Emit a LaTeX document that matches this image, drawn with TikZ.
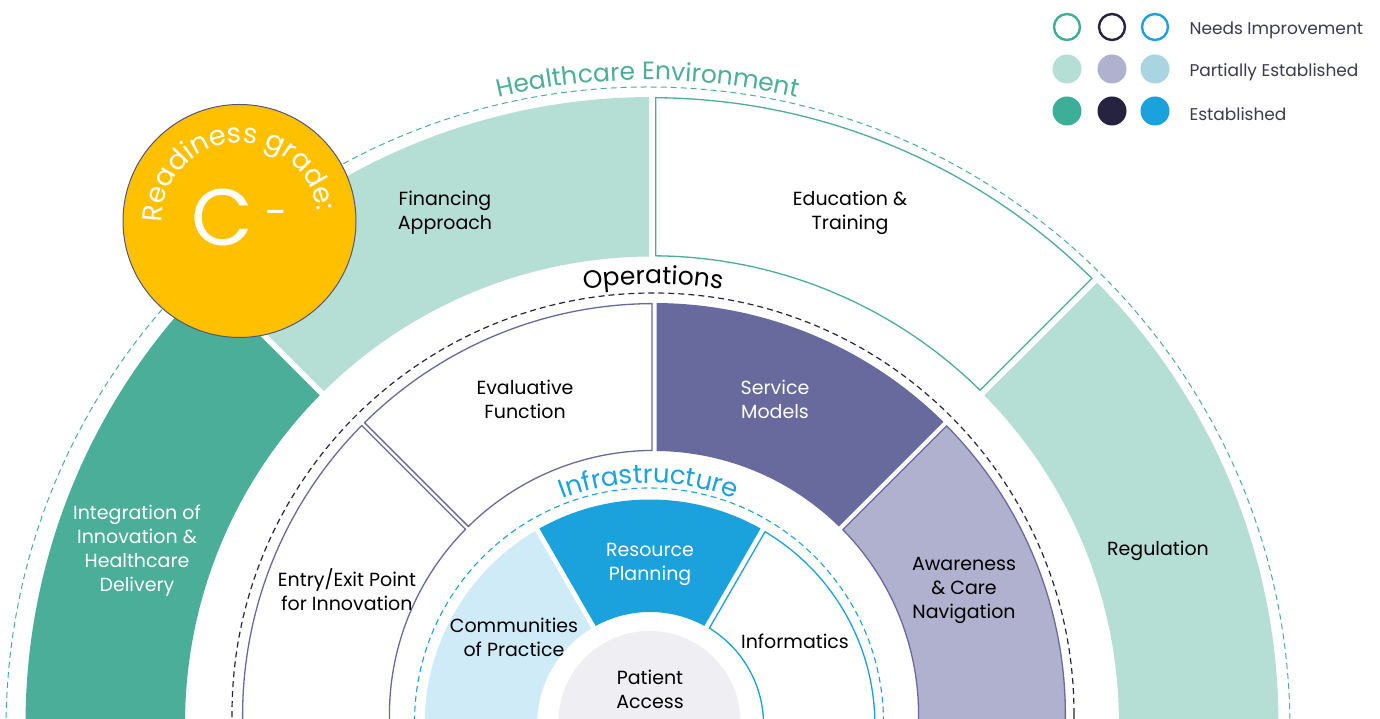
\documentclass[tikz,border=0pt]{standalone}
\usepackage{fontspec}
\setmainfont{Poppins}
\usetikzlibrary{decorations.text}
\definecolor{teal1}{HTML}{4BAE98}
\definecolor{teallt}{HTML}{B5DED5}
\definecolor{tealleg}{HTML}{3DAE98}
\definecolor{purp}{HTML}{6A68A0}
\definecolor{purpfill}{HTML}{68699D}
\definecolor{purplt}{HTML}{B0B1CE}
\definecolor{navy}{HTML}{252340}
\definecolor{blue1}{HTML}{1BA1DB}
\definecolor{bluelt}{HTML}{CFEBF8}
\definecolor{bluepart}{HTML}{A9D4E2}
\definecolor{gold}{HTML}{FFC000}
\definecolor{pagrey}{HTML}{EEEEF3}
\definecolor{legtxt}{HTML}{3A3A50}
\definecolor{ringline}{HTML}{55557A}
% #1 centre, #2 style, #3 start angle, #4 end angle, #5 inner r, #6 outer r, #7 half gap
\newcommand\ringseg[7]{%
 \pgfmathsetmacro\sgA{#3+asin(#7/#6)}%
 \pgfmathsetmacro\sgB{#4-asin(#7/#6)}%
 \pgfmathsetmacro\sgC{#4-asin(#7/#5)}%
 \pgfmathsetmacro\sgD{#3+asin(#7/#5)}%
 \path[#2] ([shift={(#1)}]\sgA:#6pt)
   arc[start angle=\sgA, end angle=\sgB, radius=#6pt]
   -- ([shift={(#1)}]\sgC:#5pt)
   arc[start angle=\sgC, end angle=\sgD, radius=#5pt]
   -- cycle;}
\tikzset{
  lbl/.style={align=center, text=black, font=\fontsize{19}{24}\selectfont},
  wlbl/.style={lbl, text=white},
  legtext/.style={anchor=west, text=legtxt, font=\fontsize{17}{20}\selectfont},
  legring/.style={draw=#1, line width=2.4pt, fill=white},
  legdot/.style={fill=#1},
}
\begin{document}
\begin{tikzpicture}[x=1pt,y=1pt]
\useasboundingbox (0,0) rectangle (1380,719);
\clip (0,0) rectangle (1380,719);
\coordinate (CO) at (652,-4.5);  % outer ring
\coordinate (CH) at (648,-10);   % healthcare dashed
\coordinate (CM) at (654,4);     % operations ring
\coordinate (CD) at (653,5);     % operations dashed
\coordinate (CI) at (650,-6);    % infrastructure ring
\coordinate (CB) at (649,-3.5);  % infrastructure dashed
% dashed guide circles
\draw[teal1, dash pattern=on 6pt off 4pt, line width=1pt] (CH) circle[radius=642pt];
\draw[navy, dash pattern=on 6pt off 4pt, line width=1.2pt] (CD) circle[radius=421pt];
\draw[blue1, dash pattern=on 6pt off 4pt, line width=1.1pt] (CB) circle[radius=234.5pt];
% outer ring: healthcare environment
\ringseg{CO}{fill=teal1}{135}{185}{467}{626.5}{3}
\ringseg{CO}{fill=teallt}{90}{135}{467}{626.5}{3}
\ringseg{CO}{draw=teal1, line width=1.3pt, fill=white}{45}{90}{467.7}{625.8}{3.7}
\ringseg{CO}{fill=teallt}{-5}{45}{467}{626.5}{3}
% middle ring: operations
\ringseg{CM}{draw=purp, line width=1.3pt, fill=white}{135}{185}{264.6}{411.4}{2}
\ringseg{CM}{draw=purp, line width=1.3pt, fill=white}{90}{135}{264.6}{411.4}{2}
\ringseg{CM}{fill=purpfill}{45}{90}{264}{412}{2.5}
\ringseg{CM}{draw=purp, line width=1.3pt, fill=purplt}{-5}{45}{264.6}{411.4}{2.5}
% inner ring: infrastructure
\ringseg{CI}{fill=bluelt}{120}{185}{113}{225.5}{2.5}
\ringseg{CI}{fill=blue1}{60}{120}{113}{225.5}{2.5}
\ringseg{CI}{draw=blue1, line width=1.3pt, fill=white}{-5}{60}{113.6}{224.9}{3}
% patient access
\fill[pagrey] (649.5,-3) circle[radius=91pt];
% curved ring titles
\path[decorate, decoration={text along path, text align=center,
  text={|\fontsize{25}{25}\selectfont\color{teal1}|Healthcare Environment}}]
  ([shift={(CH)}]122:649pt) arc[start angle=122, end angle=58, radius=649pt];
\path[decorate, decoration={text along path, text align=center,
  text={|\fontsize{25}{25}\selectfont\color{black}|Operations}}]
  ([shift={(CD)}]115:430pt) arc[start angle=115, end angle=65, radius=430pt];
\path[decorate, decoration={text along path, text align=center,
  text={|\fontsize{26}{26}\selectfont\color{blue1}|Infrastructure}}]
  ([shift={(CB)}]140:239.5pt) arc[start angle=140, end angle=40, radius=239.5pt];
% segment labels
\node[lbl] (fin) at (445,506) {Financing\\Approach};
\node[lbl] (edu) at (850,506) {Education \&\\Training};
\node[wlbl] (integ) at (137,168) {Integration of\\Innovation \&\\Healthcare\\Delivery};
\node[lbl] (reg) at (1158,168) {Regulation};
\node[lbl] (eval) at (525,320) {Evaluative\\Function};
\node[wlbl] (serv) at (775,320) {Service\\Models};
\node[lbl] (entry) at (347,129) {Entry/Exit Point\\for Innovation};
\node[lbl] (aware) at (964,129) {Awareness\\\& Care\\Navigation};
\node[wlbl] (res) at (650,155) {Resource\\Planning};
\node[lbl] (comm) at (514,82) {Communities\\of Practice};
\node[lbl] (infm) at (795,78) {Informatics};
\node[lbl] (pat) at (650,30) {Patient\\Access};
% readiness grade badge
\node[circle, fill=gold, draw=ringline, line width=1pt, minimum size=233pt, inner sep=0pt] (grade) at (239.5,498) {};
\path[decorate, decoration={text along path, text align=center,
  text={|\fontsize{27.5}{27.5}\selectfont\color{white}|Readiness grade:}}]
  ([shift={(grade.center)}]192:78pt) arc[start angle=192, end angle=-4, radius=78pt];
\node[text=white, font=\fontsize{80}{80}\selectfont, inner sep=0pt] (gC) at (222,501.5) {C};
\node[text=white, font=\fontsize{40}{40}\selectfont, inner sep=0pt] (gm) at (276.5,501) {-};
% legend
\node[circle, legring=tealleg, minimum size=26pt, inner sep=0pt] (l11) at (1067,692) {};
\node[circle, legring=navy, minimum size=26pt, inner sep=0pt] (l12) at (1112,692) {};
\node[circle, legring=blue1, minimum size=26pt, inner sep=0pt] (l13) at (1155,692) {};
\node[circle, legdot=teallt, minimum size=29pt, inner sep=0pt] (l21) at (1067,650) {};
\node[circle, legdot=purplt, minimum size=29pt, inner sep=0pt] (l22) at (1112,650) {};
\node[circle, legdot=bluepart, minimum size=29pt, inner sep=0pt] (l23) at (1155,650) {};
\node[circle, legdot=tealleg, minimum size=29pt, inner sep=0pt] (l31) at (1067,608) {};
\node[circle, legdot=navy, minimum size=29pt, inner sep=0pt] (l32) at (1112,608) {};
\node[circle, legdot=blue1, minimum size=29pt, inner sep=0pt] (l33) at (1155,608) {};
\node[legtext] (t1) at (1186,689) {Needs Improvement};
\node[legtext] (t2) at (1186,647) {Partially Established};
\node[legtext] (t3) at (1186,605) {Established};
\end{tikzpicture}
\end{document}
